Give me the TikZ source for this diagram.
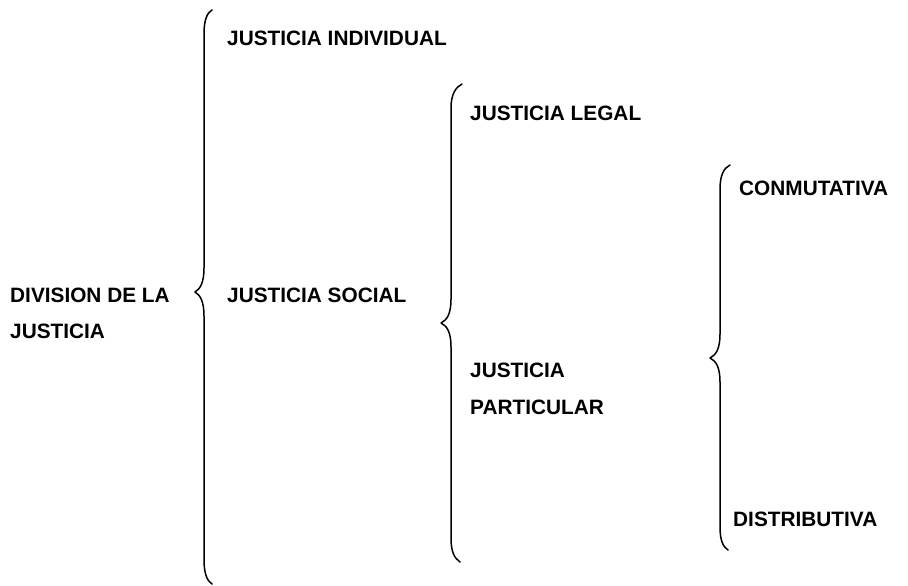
\documentclass[tikz,border=0pt]{standalone}
\usepackage{fontspec}
\setmainfont{Liberation Sans}
\begin{document}
\begin{tikzpicture}[x=1pt,y=-1pt,
  lbl/.style={anchor=base west,inner sep=0pt,font=\fontsize{20.8}{24}\selectfont\bfseries},
  bracepath/.style={line width=1.5pt,line cap=round,line join=round}]
\useasboundingbox[fill=white] (0,0) rectangle (908,586);
% labels
\node[lbl] (div1) at (10,302) {DIVISION DE LA};
\node[lbl] (div2) at (10,338) {JUSTICIA};
\node[lbl] (ind) at (227,46) {JUSTICIA INDIVIDUAL};
\node[lbl] (soc) at (227,302) {JUSTICIA SOCIAL};
\node[lbl] (leg) at (470,120) {JUSTICIA LEGAL};
\node[lbl] (par1) at (470,377) {JUSTICIA};
\node[lbl] (par2) at (470,414) {PARTICULAR};
\node[lbl] (con) at (739,195) {CONMUTATIVA};
\node[lbl] (dis) at (733,526) {DISTRIBUTIVA};
% brace 1
\draw[bracepath] (212,10) .. controls (207,13) and (204,20) .. (204,34)
  -- (204,268) .. controls (204,283) and (200,289) .. (195,292)
  .. controls (200,295) and (204,301) .. (204,316)
  -- (204,560) .. controls (204,573) and (207,581) .. (212,584);
% brace 2
\draw[bracepath] (462,84) .. controls (456,87) and (451,94) .. (451,108)
  -- (451,299) .. controls (451,314) and (447,320) .. (441,323)
  .. controls (447,326) and (451,332) .. (451,347)
  -- (451,538) .. controls (451,551) and (454,558) .. (460,562);
% brace 3
\draw[bracepath] (730,165) .. controls (724,168) and (720,175) .. (720,189)
  -- (720,334) .. controls (720,349) and (716,355) .. (710,358)
  .. controls (716,361) and (720,367) .. (720,382)
  -- (720,527) .. controls (720,540) and (723,547) .. (728,550);
\end{tikzpicture}
\end{document}
